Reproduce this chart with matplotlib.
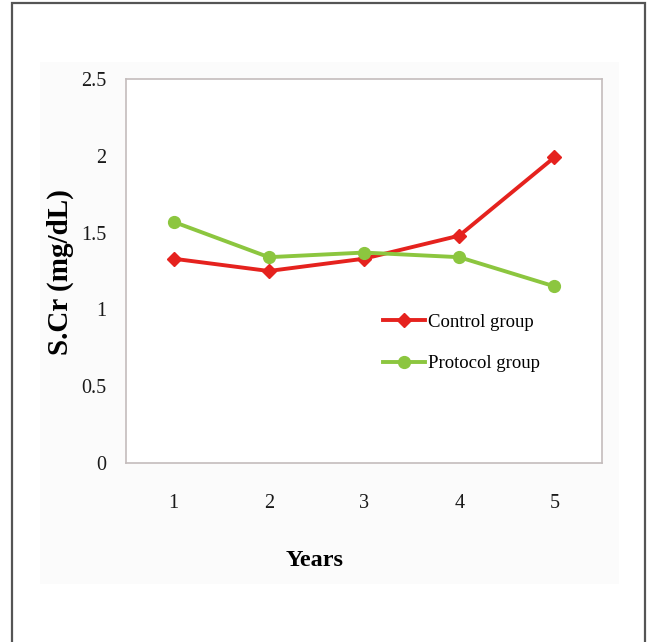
import matplotlib as mpl
mpl.use('Agg')
import matplotlib.pyplot as plt
from matplotlib.patches import Rectangle

years = [1, 2, 3, 4, 5]
control = [1.33, 1.25, 1.33, 1.48, 1.99]
protocol = [1.57, 1.34, 1.37, 1.34, 1.15]
yticks = [0, 0.5, 1, 1.5, 2, 2.5]
ytick_labels = ['0', '0.5', '1', '1.5', '2', '2.5']

plt.rcParams['font.family'] = ['Liberation Serif', 'DejaVu Serif']

W, H = 647, 642
fig = plt.figure(figsize=(W / 100, H / 100), dpi=100)
fig.patch.set_facecolor('white')

# light panel behind the chart and outer frame
fig.add_artist(Rectangle((40 / W, 1 - 584 / H), (619 - 40) / W, (584 - 62) / H,
                         transform=fig.transFigure, facecolor='#fbfbfb', edgecolor='none', zorder=0))
fig.add_artist(Rectangle((12 / W, -0.01), (645 - 12) / W, 1 - 3 / H + 0.01,
                         transform=fig.transFigure, facecolor='none', edgecolor='#555555',
                         linewidth=1.6, zorder=1))

ax = fig.add_axes([126 / W, 1 - 463 / H, (602 - 126) / W, (463 - 79) / H])
ax.set_facecolor('white')

ax.plot(years, control, color='#e5221e', linewidth=2.8, marker='D', markersize=7,
        label='Control group')
ax.plot(years, protocol, color='#8cc63f', linewidth=2.8, marker='o', markersize=8.5,
        label='Protocol group')

ax.set_xlim(0.5, 5.5)
ax.set_ylim(0, 2.5)
ax.set_xticks(years)
ax.set_yticks(yticks)
ax.set_yticklabels(ytick_labels)
ax.tick_params(length=0, labelsize=14.5, colors='#1a1a1a')
ax.tick_params(axis='x', pad=22)
ax.tick_params(axis='y', pad=14)

for s in ax.spines.values():
    s.set_color('#c4bcbc')
    s.set_linewidth(1.2)

ax.set_xlabel('Years', fontsize=17.5, fontweight='bold')
ax.xaxis.set_label_coords(0.397, (463 - 561) / 384, transform=ax.transAxes)
ax.xaxis.label.set_va('center')
ax.set_ylabel('S.Cr (mg/dL)', fontsize=21, fontweight='bold')
ax.yaxis.set_label_coords(-0.139, 0.497, transform=ax.transAxes)
ax.yaxis.label.set_va('center')

leg = ax.legend(loc='upper left', bbox_to_anchor=(0.505, 0.433), frameon=False,
                fontsize=13.5, handlelength=2.2, handletextpad=0.2, labelspacing=1.3)

plt.savefig('out.png', dpi=100)
